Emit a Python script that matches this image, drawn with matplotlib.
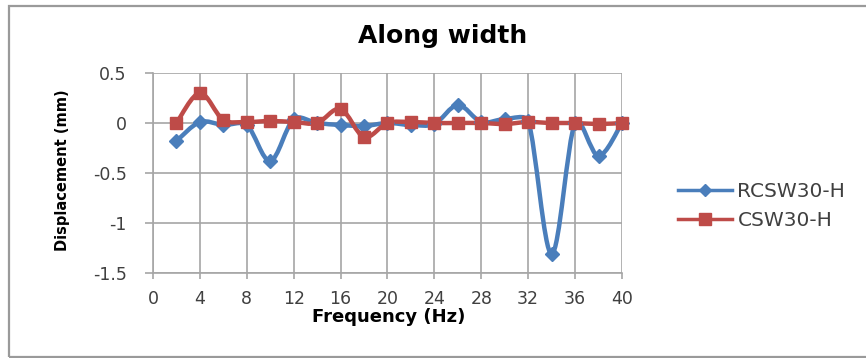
import numpy as np
import matplotlib
matplotlib.use("Agg")
import matplotlib.pyplot as plt
from matplotlib.path import Path
from matplotlib.patches import PathPatch, Rectangle
from matplotlib.lines import Line2D

# ---------- data ----------
freq = [2, 4, 6, 8, 10, 12, 14, 16, 18, 20, 22, 24, 26, 28, 30, 32, 34, 36, 38, 40]
rcsw30_h = [-0.18, 0.01, -0.02, -0.02, -0.38, 0.04, 0.0, -0.02, -0.03, 0.0,
            -0.02, -0.01, 0.18, 0.01, 0.04, 0.02, -1.31, 0.0, -0.33, 0.0]
csw30_h = [0.0, 0.30, 0.03, 0.01, 0.02, 0.01, 0.0, 0.14, -0.14, 0.0,
           0.01, 0.0, 0.0, 0.0, -0.01, 0.01, 0.0, 0.0, -0.01, 0.0]
xticks = list(range(0, 41, 4))
yticks = [0.5, 0, -0.5, -1, -1.5]

BLUE = "#4a7ebb"
RED = "#be4b48"
GRID = "#a6a6a6"
TXT = "#404040"


def smooth_path(ax, x, y):
    """Excel-ish smoothed line: Catmull-Rom Bezier in pixel space,
    control arms clamped to a third of the segment they sit on (no big overshoot)."""
    to_px = ax.transData
    pts = to_px.transform(np.column_stack([x, y]).astype(float))
    n = len(pts)
    tan = np.array([(pts[min(i + 1, n - 1)] - pts[max(i - 1, 0)]) / 6 for i in range(n)])
    verts, codes = [pts[0]], [Path.MOVETO]
    for i in range(n - 1):
        seg = np.hypot(*(pts[i + 1] - pts[i])) / 3
        a, b = tan[i], tan[i + 1]
        a = a * min(1, seg / max(np.hypot(*a), 1e-9))
        b = b * min(1, seg / max(np.hypot(*b), 1e-9))
        verts += [pts[i] + a, pts[i + 1] - b, pts[i + 1]]
        codes += [Path.CURVE4] * 3
    return Path(to_px.inverted().transform(np.array(verts)), codes)


fig = plt.figure(figsize=(8.66, 3.58), dpi=100)
fig.patches.append(Rectangle((0.0104, 0.004), 1.2, 0.98, transform=fig.transFigure,
                             fill=False, edgecolor="#9a9a9a", lw=1.6))

ax = fig.add_axes([0.1767, 0.2374, 0.5415, 0.5587])
ax.set_xlim(0, 40)
ax.set_ylim(-1.5, 0.5)
ax.set_xticks(xticks)
ax.set_yticks(yticks)
ax.set_yticklabels(["0.5", "0", "-0.5", "-1", "-1.5"])
ax.grid(True, color=GRID, lw=1.2)
ax.set_axisbelow(True)
for s in ("top", "right"):
    ax.spines[s].set_visible(False)
for s in ("left", "bottom"):
    ax.spines[s].set_color(GRID)
    ax.spines[s].set_linewidth(1.2)
ax.tick_params(axis="y", length=6, width=1.2, color=GRID, labelcolor=TXT, labelsize=12.5, pad=13)
ax.tick_params(axis="x", length=4, width=1.2, color=GRID, labelcolor=TXT, labelsize=12.5, pad=8)

for ys, col, mk, ms in ((rcsw30_h, BLUE, "D", 7), (csw30_h, RED, "s", 9)):
    ax.add_patch(PathPatch(smooth_path(ax, freq, ys), fill=False, edgecolor=col, lw=3.2,
                           capstyle="round", joinstyle="round", zorder=3))
    ax.plot(freq, ys, ls="none", marker=mk, ms=ms, color=col, zorder=4, clip_on=False)

fig.text(0.511, 0.899, "Along width", ha="center", va="center",
         fontsize=18, fontweight="bold")
fig.text(0.449, 0.114, "Frequency (Hz)", ha="center", va="center",
         fontsize=13, fontweight="bold")
fig.text(0.0716, 0.525, "Displacement (mm)", ha="center", va="center", rotation=90,
         fontsize=10.5, fontweight="bold")

handles = [Line2D([], [], color=BLUE, lw=2.5, marker="D", ms=6),
           Line2D([], [], color=RED, lw=2.5, marker="s", ms=8)]
fig.legend(handles, ["RCSW30-H", "CSW30-H"], loc="center left",
           bbox_to_anchor=(0.762, 0.425), frameon=False, fontsize=14.5,
           handlelength=2.7, handletextpad=0.25, labelspacing=0.5, labelcolor=TXT)

fig.savefig("out.png", dpi=100)
